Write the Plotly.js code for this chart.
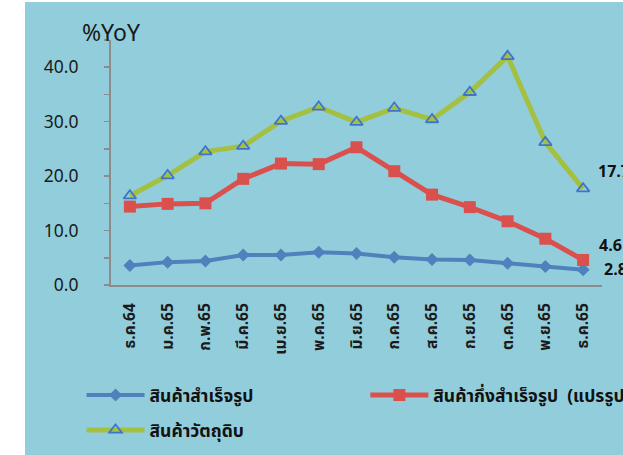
<!DOCTYPE html>
<html>
<head>
<meta charset="utf-8">
<script src="https://cdn.plot.ly/plotly-3.0.1.min.js"></script>
<style>
html,body{margin:0;padding:0;background:#ffffff;width:623px;height:455px;overflow:hidden;}
#chart{position:absolute;left:25px;top:2px;width:598px;height:453px;}
</style>
</head>
<body>
<div id="chart"></div>
<script>
const categories = ["ธ.ค.64","ม.ค.65","ก.พ.65","มี.ค.65","เม.ย.65","พ.ค.65","มิ.ย.65","ก.ค.65","ส.ค.65","ก.ย.65","ต.ค.65","พ.ย.65","ธ.ค.65"];
const finishedGoods = [3.6, 4.2, 4.4, 5.5, 5.5, 6.0, 5.8, 5.1, 4.7, 4.6, 4.0, 3.4, 2.8];
const semiFinished  = [14.4, 14.9, 15.0, 19.5, 22.3, 22.2, 25.3, 20.9, 16.6, 14.3, 11.7, 8.5, 4.6];
const rawMaterials  = [16.4, 20.1, 24.5, 25.5, 30.1, 32.7, 29.9, 32.5, 30.4, 35.4, 42.0, 26.2, 17.7];
const seriesNames = ["สินค้าสำเร็จรูป", "สินค้ากึ่งสำเร็จรูป  (แปรรูป)", "สินค้าวัตถุดิบ"];
const yTitle = "%YoY";

const FONT = "Tahoma, 'Noto Sans Thai', 'Noto Sans Thai UI', Loma, Garuda, 'Liberation Sans', Arial, sans-serif";
const BG = "#92CDDC";

const traces = [
  {x: categories, y: finishedGoods, name: seriesNames[0], type: "scatter", mode: "lines+markers",
   line: {color: "#4F81BD", width: 4}, marker: {symbol: "diamond", size: 10, color: "#4F81BD"}, legend: "legend"},
  {x: categories, y: semiFinished, name: seriesNames[1], type: "scatter", mode: "lines+markers",
   line: {color: "#D9504D", width: 5}, marker: {symbol: "square", size: 12, color: "#D9504D"}, legend: "legend2"},
  {x: categories, y: rawMaterials, name: seriesNames[2], type: "scatter", mode: "lines+markers",
   line: {color: "#A3C040", width: 5}, marker: {symbol: "triangle-up-open", size: 11, color: "#3F74C9", line: {width: 1.8, color: "#3F74C9"}}, legend: "legend3"}
];

const last = categories.length - 1;
const endLabels = [
  {v: rawMaterials[last], xs: 13, ys: 17},
  {v: semiFinished[last], xs: 14, ys: 14},
  {v: finishedGoods[last], xs: 19, ys: 0}
];

const annotations = endLabels.map(o => ({
  x: categories[last], y: o.v, xref: "x", yref: "y", text: o.v.toFixed(1),
  showarrow: false, xanchor: "left", yanchor: "middle", xshift: o.xs, yshift: o.ys,
  font: {family: FONT, size: 16, color: "#111111", weight: "bold"}
}));
annotations.push({
  x: -0.064, y: 1.025, xref: "paper", yref: "paper", text: yTitle, showarrow: false,
  xanchor: "left", yanchor: "middle", font: {family: FONT, size: 23, color: "#1a1a1a"}
});

const legendBase = {orientation: "v", bgcolor: "rgba(0,0,0,0)", borderwidth: 0,
  font: {family: FONT, size: 17.5, color: "#111111", weight: "bold"}, itemwidth: 58,
  xanchor: "left", yanchor: "middle", tracegroupgap: 0};

const layout = {
  width: 598, height: 453,
  margin: {l: 86, r: 21, t: 38, b: 170, autoexpand: false},
  paper_bgcolor: BG, plot_bgcolor: BG,
  showlegend: true,
  font: {family: FONT, color: "#1a1a1a"},
  xaxis: {
    type: "category", range: [-0.5, 12.5], showline: true, linecolor: "#8C8C8C", linewidth: 2,
    showgrid: false, zeroline: false, ticks: "", tickangle: -90, automargin: false, ticklabelstandoff: 10,
    tickfont: {family: FONT, size: 15.5, color: "#1a1a1a", weight: "bold"}, fixedrange: true
  },
  yaxis: {
    range: [0, 45], dtick: 10, tick0: 0, tickformat: ".1f", showline: true, linecolor: "#8C8C8C", linewidth: 2,
    showgrid: false, zeroline: false, ticks: "outside", ticklen: 5, tickwidth: 1.5, tickcolor: "#8C8C8C",
    ticklabelstandoff: 22, automargin: false,
    minor: {dtick: 5, ticks: "outside", ticklen: 5, tickwidth: 1.5, tickcolor: "#8C8C8C"},
    tickfont: {family: FONT, size: 17.5, color: "#1a1a1a"}, fixedrange: true
  },
  legend: Object.assign({}, legendBase, {x: -0.06, y: -0.449}),
  legend2: Object.assign({}, legendBase, {x: 0.518, y: -0.449}),
  legend3: Object.assign({}, legendBase, {x: -0.06, y: -0.592}),
  annotations: annotations
};

Plotly.newPlot("chart", traces, layout, {displayModeBar: false, staticPlot: true});
</script>
</body>
</html>
